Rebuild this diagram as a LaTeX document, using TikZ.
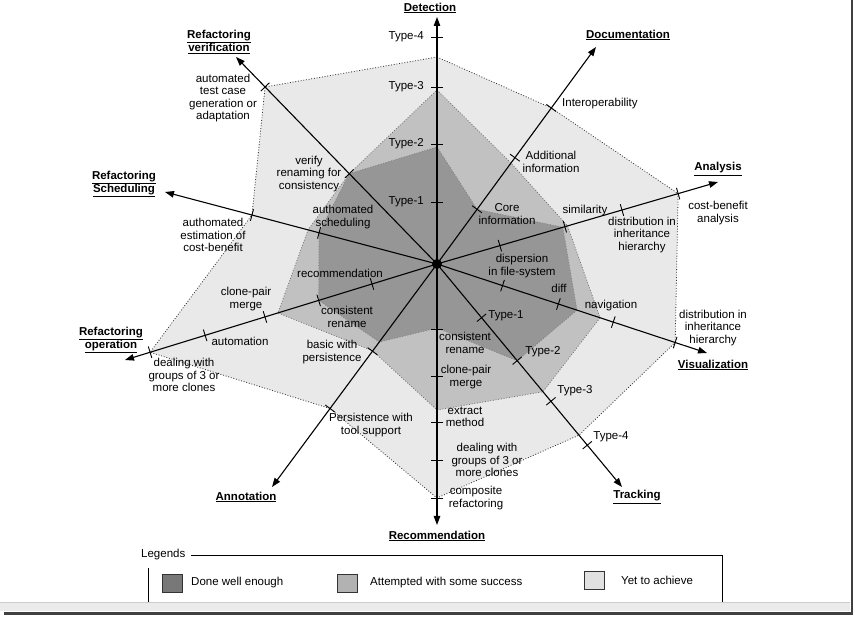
\documentclass[tikz,border=0pt]{standalone}
\usepackage{fontspec}
\setmainfont{Liberation Sans}
\usetikzlibrary{calc,arrows.meta}
\definecolor{cdark}{RGB}{150,150,150}
\definecolor{cmed}{RGB}{193,193,193}
\definecolor{clight}{RGB}{233,233,233}
\definecolor{ldark}{RGB}{120,120,120}
\definecolor{lmed}{RGB}{178,178,178}
\definecolor{llight}{RGB}{225,225,225}
\newcommand\axtick[3]{\coordinate (#3) at ($(o)!#2pt!(#1)$);\draw[tickm] ($(#3)!6pt!90:(#1)$) -- ($(#3)!6pt!-90:(#1)$);}
\newcommand\ap[2]{($(o)!#2pt!(#1)$)}
\begin{document}
\begin{tikzpicture}[x=1pt,y=-1pt,
  axis/.style={line width=1.1pt,-{Triangle[length=9pt,width=6.5pt]}},
  tickm/.style={line width=0.9pt},
  lbl/.style={font=\fontsize{11.5}{12.5}\selectfont, align=center, inner sep=0pt},
  ttl/.style={font=\fontsize{11.5}{13.5}\selectfont\bfseries, align=center, inner sep=0pt},
  bord/.style={dash pattern=on 0.9pt off 1.8pt, line width=0.8pt}]
\useasboundingbox (0,0) rectangle (855,617);
\fill[white] (0,0) rectangle (855,617);

% centre and axis tips
\coordinate (o) at (437,264);
\coordinate (D) at (437,17);
\coordinate (Doc) at (596,47);
\coordinate (An) at (718,182);
\coordinate (Vis) at (707,353);
\coordinate (Tr) at (622,487);
\coordinate (Rec) at (437,525);
\coordinate (Ann) at (272,487);
\coordinate (RO) at (125,360);
\coordinate (RS) at (165,192);
\coordinate (RV) at (236,57);

% regions
\filldraw[fill=clight, draw=black!80, bord]
  \ap{D}{207} -- \ap{Doc}{193.4} -- \ap{An}{251.2} -- \ap{Vis}{250.8} -- \ap{Tr}{222.4}
  -- \ap{Rec}{234} -- \ap{Ann}{179.8} -- \ap{RO}{300.2} -- \ap{RS}{191.4} -- \ap{RV}{246.8} -- cycle;
\filldraw[fill=cmed, draw=black!55, bord]
  \ap{D}{174} -- \ap{Doc}{125.2} -- \ap{An}{136} -- \ap{Vis}{171.7} -- \ap{Tr}{166}
  -- \ap{Rec}{146} -- \ap{Ann}{108} -- \ap{RO}{166.4} -- \ap{RS}{133.4} -- \ap{RV}{125.9} -- cycle;
\filldraw[fill=cdark, draw=black!50, bord]
  \ap{D}{117} -- \ap{Doc}{67.8} -- \ap{An}{131} -- \ap{Vis}{147.4} -- \ap{Tr}{125.6}
  -- \ap{Rec}{64} -- \ap{Ann}{97} -- \ap{RO}{123.8} -- \ap{RS}{122} -- \ap{RV}{125.9} -- cycle;

% axes
\foreach \a in {D,Doc,An,Vis,Tr,Rec,Ann,RO,RS,RV}{\draw[axis] (o) -- (\a);}

% ticks
\axtick{D}{62}{d1}\axtick{D}{120}{d2}\axtick{D}{177}{d3}\axtick{D}{227}{d4}
\axtick{Doc}{67.8}{do1}\axtick{Doc}{131.8}{do2}\axtick{Doc}{193.4}{do3}
\axtick{An}{65.5}{an1}\axtick{An}{133.2}{an2}\axtick{An}{192.7}{an3}\axtick{An}{251.2}{an4}
\axtick{Vis}{69}{vi1}\axtick{Vis}{127.8}{vi2}\axtick{Vis}{185.6}{vi3}\axtick{Vis}{250.8}{vi4}
\axtick{Tr}{69.8}{tr1}\axtick{Tr}{125.6}{tr2}\axtick{Tr}{178.4}{tr3}\axtick{Tr}{235.4}{tr4}
\axtick{Rec}{65}{re1}\axtick{Rec}{112}{re2}\axtick{Rec}{158}{re3}\axtick{Rec}{196}{re4}\axtick{Rec}{234}{re5}
\axtick{Ann}{108.5}{nn1}\axtick{Ann}{179.8}{nn2}
\axtick{RO}{68}{ro1}\axtick{RO}{123.8}{ro2}\axtick{RO}{180}{ro3}\axtick{RO}{242.6}{ro4}\axtick{RO}{300.2}{ro5}
\axtick{RS}{122}{rs1}\axtick{RS}{191.4}{rs2}
\axtick{RV}{125.9}{rv1}\axtick{RV}{246.8}{rv2}

\node[circle, fill=black, minimum size=10pt, inner sep=0pt] (c) at (o) {};

% axis titles
\node[ttl] (tD) at (430,8) {\underline{Detection}};
\node[ttl] (tDoc) at (628,35) {\underline{Documentation}};
\node[ttl] (tAn) at (718,169) {\underline{Analysis}};
\node[ttl] (tVis) at (713,365) {\underline{Visualization}};
\node[ttl] (tTr) at (637,497) {\underline{Tracking}};
\node[ttl] (tRec) at (437,536) {\underline{Recommendation}};
\node[ttl] (tAnn) at (246,497) {\underline{Annotation}};
\node[ttl] (tRO) at (111,340) {\underline{Refactoring}\\\underline{operation}};
\node[ttl] (tRS) at (124,184) {\underline{Refactoring}\\\underline{Scheduling}};
\node[ttl] (tRV) at (219,42) {\underline{Refactoring}\\\underline{verification}};

% detection
\node[lbl, anchor=east] (ld4) at (424,37) {Type-4};
\node[lbl, anchor=east] (ld3) at (424,87) {Type-3};
\node[lbl, anchor=east] (ld2) at (424,144) {Type-2};
\node[lbl, anchor=east] (ld1) at (424,202) {Type-1};
% documentation
\node[lbl, anchor=west] (ldo3) at (562,104) {Interoperability};
\node[lbl] (ldo2) at (551,162) {Additional\\information};
\node[lbl] (ldo1) at (507,214) {Core\\information};
% analysis
\node[lbl] (lan2) at (585,211) {similarity};
\node[lbl] (lan3) at (642,235) {distribution in\\inheritance\\hierarchy};
\node[lbl] (lan4) at (718,213) {cost-benefit\\analysis};
\node[lbl] (lan1) at (522,266) {dispersion\\in file-system};
% visualization
\node[lbl] (lvi2) at (559,288) {diff};
\node[lbl] (lvi3) at (611,306) {navigation};
\node[lbl] (lvi4) at (713,328) {distribution in\\inheritance\\hierarchy};
% tracking
\node[lbl] (ltr1) at (506,316) {Type-1};
\node[lbl] (ltr2) at (543,352) {Type-2};
\node[lbl] (ltr3) at (575,391) {Type-3};
\node[lbl] (ltr4) at (611,437) {Type-4};
% recommendation
\node[lbl] (lre1) at (465,343) {consistent\\rename};
\node[lbl] (lre2) at (466,377) {clone-pair\\merge};
\node[lbl] (lre3) at (465,417) {extract\\method};
\node[lbl] (lre4) at (487,460) {dealing with\\groups of 3 or\\more clones};
\node[lbl] (lre5) at (476,498) {composite\\refactoring};
% annotation
\node[lbl] (lnn1) at (332,352) {basic with\\persistence};
\node[lbl] (lnn2) at (371,425) {Persistence with\\tool support};
% refactoring operation
\node[lbl] (lro1) at (340,273) {recommendation};
\node[lbl] (lro2) at (347,317) {consistent\\rename};
\node[lbl] (lro3) at (246,299) {clone-pair\\merge};
\node[lbl] (lro4) at (240,341) {automation};
\node[lbl] (lro5) at (184,375) {dealing with\\groups of 3 or\\more clones};
% refactoring scheduling
\node[lbl] (lrs1) at (343,217) {authomated\\scheduling};
\node[lbl] (lrs2) at (213,235) {authomated\\estimation of\\cost-benefit};
% refactoring verification
\node[lbl] (lrv1) at (309,174) {verify\\renaming for\\consistency};
\node[lbl] (lrv2) at (223,98) {automated\\test case\\generation or\\adaptation};

% legend
\node[lbl, anchor=west] (leg) at (141,555) {Legends};
\coordinate (lgA) at (191,555);
\coordinate (lgB) at (722,555);
\coordinate (lgC) at (722,603);
\coordinate (lgD) at (148,568);
\coordinate (lgE) at (148,603);
\draw[line width=0.8pt] (lgA) -- (lgB) -- (lgC);
\draw[line width=0.8pt] (lgD) -- (lgE);
\node[draw=black!80, fill=ldark, minimum width=20pt, minimum height=18pt, inner sep=0pt] (bx1) at (172,583) {};
\node[lbl, anchor=west] (tx1) at (191,583) {Done well enough};
\node[draw=black!80, fill=lmed, minimum width=20pt, minimum height=18pt, inner sep=0pt] (bx2) at (347,583) {};
\node[lbl, anchor=west] (tx2) at (370,583) {Attempted with some success};
\node[draw=black!80, fill=llight, minimum width=20pt, minimum height=18pt, inner sep=0pt] (bx3) at (594,580) {};
\node[lbl, anchor=west] (tx3) at (621,580) {Yet to achieve};

% window frame
\fill[black!8] (0,602) rectangle (850,611);
\draw[black!20, line width=0.6pt] (0,602) -- (850,602);
\draw[black!75, line width=2.4pt] (4,613.5) -- (852,613.5) -- (852,0);
\end{tikzpicture}
\end{document}
